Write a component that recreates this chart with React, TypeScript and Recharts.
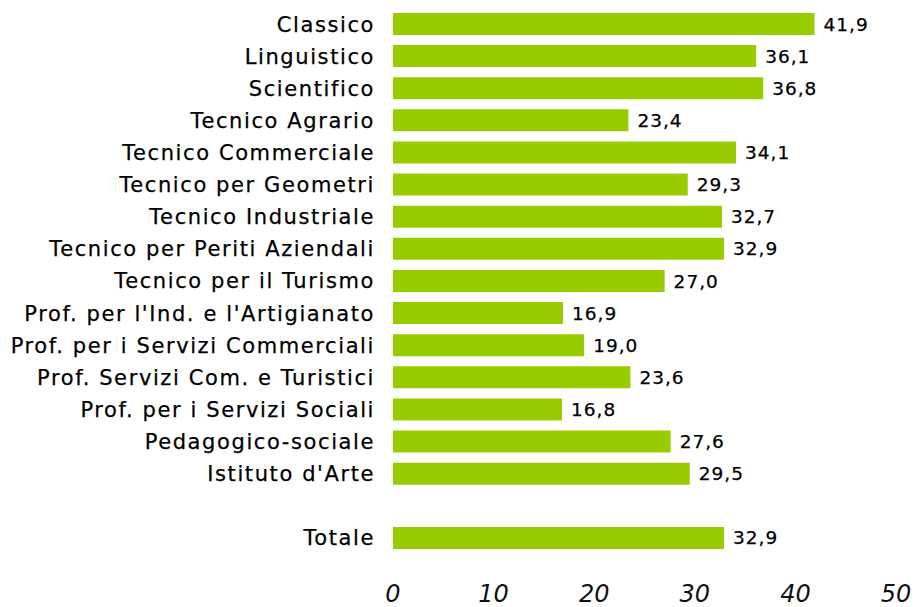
import React from 'react';
import { BarChart, Bar, XAxis, YAxis, LabelList } from 'recharts';

const categories: string[] = [
  'Classico',
  'Linguistico',
  'Scientifico',
  'Tecnico Agrario',
  'Tecnico Commerciale',
  'Tecnico per Geometri',
  'Tecnico Industriale',
  'Tecnico per Periti Aziendali',
  'Tecnico per il Turismo',
  "Prof. per l'Ind. e l'Artigianato",
  'Prof. per i Servizi Commerciali',
  'Prof. Servizi Com. e Turistici',
  'Prof. per i Servizi Sociali',
  'Pedagogico-sociale',
  "Istituto d'Arte",
  '',
  'Totale',
];

const values: (number | null)[] = [
  41.9, 36.1, 36.8, 23.4, 34.1, 29.3, 32.7, 32.9, 27.0, 16.9, 19.0, 23.6, 16.8, 27.6, 29.5, null, 32.9,
];

const xTicks: number[] = [0, 10, 20, 30, 40, 50];

const data = categories.map((name, i) => ({ name, value: values[i] }));

const FONT = '"DejaVu Sans", Verdana, sans-serif';

const fmt = (v: any) => (v === null || v === undefined || v === '' ? '' : Number(v).toFixed(1).replace('.', ','));

export default function App() {
  return (
    <div style={{ position: 'absolute', left: 0, top: 0, width: 919, height: 607, background: '#fff' }}>
      <BarChart
        width={919}
        height={607}
        data={data}
        layout="vertical"
        margin={{ top: 8, right: 23, bottom: 0, left: 0 }}
      >
        <XAxis
          type="number"
          domain={[0, 50]}
          ticks={xTicks}
          axisLine={false}
          tickLine={false}
          tickSize={0}
          tickMargin={31}
          height={53}
          interval={0}
          tick={{ fontFamily: FONT, fontSize: 24, fontStyle: 'italic', fill: '#111' }}
        />
        <YAxis
          type="category"
          dataKey="name"
          width={393}
          axisLine={false}
          tickLine={false}
          tickSize={0}
          tickMargin={18}
          interval={0}
          tick={{ fontFamily: FONT, fontSize: 21, fill: '#000', letterSpacing: 1.6, stroke: '#000', strokeWidth: 0.25 }}
        />
        <Bar dataKey="value" fill="#99CC00" barSize={22} isAnimationActive={false}>
          <LabelList
            dataKey="value"
            position="right"
            offset={9}
            formatter={fmt}
            style={{ fontFamily: FONT, fontSize: 18.5, fill: '#000', letterSpacing: 1, stroke: '#000', strokeWidth: 0.25 }}
          />
        </Bar>
      </BarChart>
    </div>
  );
}
